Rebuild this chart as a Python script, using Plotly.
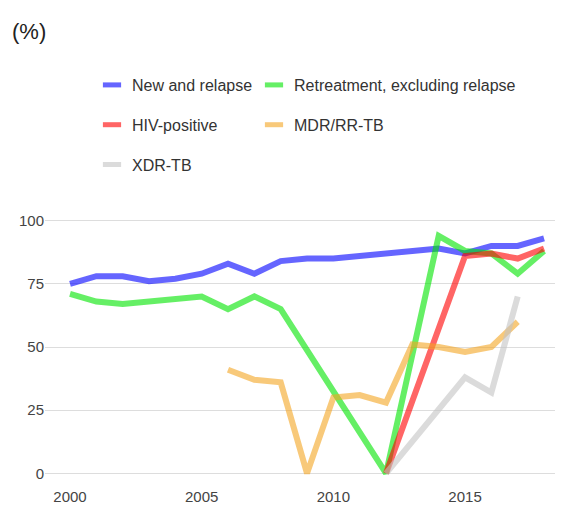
import plotly.graph_objects as go

years = list(range(2000, 2019))
new_relapse = [75, 78, 78, 76, 77, 79, 83, 79, 84, 85, 85, 86, 87, 88, 89, 87, 90, 90, 93]
retreatment = [71, 68, 67, 68, 69, 70, 65, 70, 65, None, None, None, 0, None, 94, 88, 87, 79, 88]
hiv_positive = [None] * 12 + [0, None, None, 86, 87, 85, 89]
mdr_rr = [None] * 6 + [41, 37, 36, 0, 30, 31, 28, 51, 50, 48, 50, 60, None]
xdr = [None] * 12 + [0, None, None, 38, 32, 70, None]

names = ["New and relapse", "Retreatment, excluding relapse", "HIV-positive", "MDR/RR-TB", "XDR-TB"]
series = [new_relapse, retreatment, hiv_positive, mdr_rr, xdr]
colors = ["#0000ff", "#00e600", "#ff0000", "#f5a623", "#c4c4c4"]
legend_of = ["legend", "legend2", "legend", "legend2", "legend"]

FONT = "Liberation Sans, Arial, sans-serif"

fig = go.Figure()
for name, vals, col in zip(names, series, colors):
    fig.add_trace(go.Scatter(
        x=years, y=vals, mode="lines", name=name, showlegend=False,
        connectgaps=True, opacity=0.6,
        line=dict(color=col, width=6),
    ))
for name, col, lg in zip(names, colors, legend_of):
    fig.add_trace(go.Scatter(
        x=[None], y=[None], mode="markers", name=name, legend=lg,
        legendgroup=name, opacity=0.6,
        marker=dict(symbol="line-ew", size=13, color=col,
                    line=dict(color=col, width=5)),
    ))

# page is offset by the 8px body margin
W, H = 555, 508
ml, mr, mt, mb = 37, 0, 200, 30
pw = W - ml - mr
ph = H - mt - mb

def px_x(p):
    return (p - ml) / pw

def px_y(p):
    return (H - mb - p) / ph

legend_common = dict(
    orientation="v", xanchor="left", yanchor="top",
    font=dict(family=FONT, size=16, color="#333333"),
    bgcolor="rgba(0,0,0,0)", borderwidth=0, tracegroupgap=16,
    itemclick=False, itemdoubleclick=False,
)

fig.update_layout(
    width=W, height=H,
    margin=dict(l=ml, r=mr, t=mt, b=mb, pad=0, autoexpand=False),
    plot_bgcolor="white", paper_bgcolor="white",
    font=dict(family=FONT, size=15, color="#444444"),
    title=dict(text="(%)", x=4 / W, xanchor="left", y=1 - 23 / H, yanchor="middle",
               xref="container", yref="container",
               font=dict(family=FONT, size=22, color="#222222")),
    legend=dict(x=px_x(84), y=px_y(60), **legend_common),
    legend2=dict(x=px_x(246), y=px_y(60), **legend_common),
    xaxis=dict(range=[1999.05, 2018.72], tickvals=[2000, 2005, 2010, 2015],
               showgrid=False, zeroline=False, showline=False, ticks="",
               automargin=False,
               tickfont=dict(family=FONT, size=15, color="#444444")),
    yaxis=dict(range=[-5, 105], tickvals=[0, 25, 50, 75, 100],
               showgrid=True, gridcolor="#dddddd", gridwidth=1,
               zeroline=False, showline=False, ticks="", automargin=False,
               tickfont=dict(family=FONT, size=15, color="#444444")),
    showlegend=True,
)

fig.write_html("out.html")
